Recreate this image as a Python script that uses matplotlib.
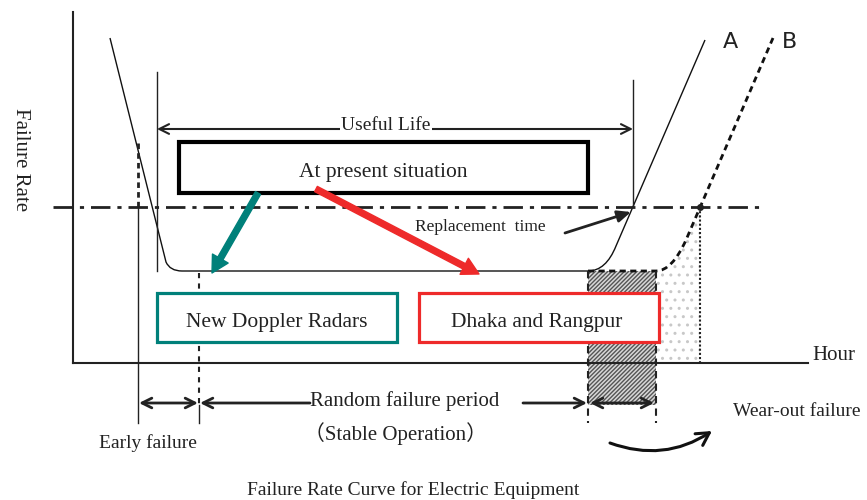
import matplotlib
matplotlib.use("Agg")
import matplotlib.pyplot as plt
from matplotlib.path import Path
from matplotlib.patches import PathPatch, Rectangle, FancyArrowPatch

# picture units: x to the right, y downward (0..867, 0..500)
M, L, C = Path.MOVETO, Path.LINETO, Path.CURVE3

curve_a_pts = [(110, 38), (166, 262), (170, 271), (182, 271), (588, 271),
               (606, 271), (616, 246), (705, 40)]
curve_a_codes = [M, L, C, C, L, C, C, L]
curve_b_pts = [(588, 271), (656, 271), (672, 271), (686, 240), (773, 38)]
curve_b_codes = [M, L, C, C, L]

replacement_y = 207
useful_life = (157, 633)
period_marks = [138, 199, 588, 656]
arrow_row_y = 403

serif = ["Liberation Serif", "DejaVu Serif"]
teal = "#00807a"
red = "#ee2a2a"

fig = plt.figure(figsize=(8.67, 5.0), dpi=100)
ax = fig.add_axes([0, 0, 1, 1])
ax.set_xlim(0, 867)
ax.set_ylim(500, 0)
ax.axis("off")

# axes of the diagram
ax.plot([73, 73], [12, 363], color="#222", lw=1.5)
ax.plot([73, 808], [363, 363], color="#222", lw=1.5)
ax.text(812, 356, "Hour", family=serif, fontsize=15, va="center", color="#222")
ax.text(20, 160, "Failure Rate", family=serif, fontsize=15, rotation=-90,
        va="center", ha="center", color="#222")

# shaded regions
rect = Rectangle((period_marks[2], 271), period_marks[3] - period_marks[2], arrow_row_y - 269,
                 facecolor="#d8d8d8", edgecolor="#555", hatch="////////", lw=0)
ax.add_patch(rect)
dots = Path([(656, 363), (656, 271), (672, 271), (686, 240), (700, 207), (700, 363), (656, 363)],
            [M, L, C, C, L, L, Path.CLOSEPOLY])
ax.add_patch(PathPatch(dots, facecolor="none", edgecolor="#c8c8c8", hatch="..", lw=0))

# curves
ax.add_patch(PathPatch(Path(curve_a_pts, curve_a_codes), fill=False, lw=1.0, color="#111"))
ax.add_patch(PathPatch(Path(curve_b_pts, curve_b_codes), fill=False, lw=2.0, color="#111",
                       linestyle=(0, (2.2, 1.6))))
ax.text(730, 42, "A", family=["Liberation Sans Narrow", "DejaVu Sans"], fontsize=16,
        ha="center", va="center", color="#222")
ax.text(790, 42, "B", family=["Liberation Sans Narrow", "DejaVu Sans"], fontsize=16,
        ha="center", va="center", color="#222")

# replacement level
ax.plot([53, 762], [replacement_y, replacement_y], color="#222", lw=2,
        linestyle=(0, (7, 2.5, 1.5, 2.5)))
ax.plot([700, 700], [replacement_y, 363], color="#222", lw=1.5, linestyle=(0, (1, 1)))
ax.plot([700], [replacement_y], "o", color="#222", ms=4)

# verticals
ax.plot([useful_life[0]] * 2, [72, 271], color="#222", lw=1)
ax.plot([useful_life[1]] * 2, [80, replacement_y], color="#222", lw=1)
ax.plot([period_marks[0]] * 2, [143, replacement_y], color="#222", lw=2, linestyle=(0, (2, 1.5)))
ax.plot([period_marks[0]] * 2, [replacement_y, 423], color="#222", lw=1)
ax.plot([period_marks[1]] * 2, [273, 405], color="#222", lw=1.5, linestyle=(0, (2.5, 2.5)))
ax.plot([period_marks[1]] * 2, [405, 423], color="#222", lw=1)
for x in period_marks[2:]:
    ax.plot([x, x], [271, 423], color="#222", lw=1.5, linestyle=(0, (3.5, 2.5)))

# useful life arrow
ax.annotate("", xy=(useful_life[0], 129), xytext=(useful_life[1], 129),
            arrowprops=dict(arrowstyle="<->,head_length=0.7,head_width=0.35", lw=1.5, color="#222",
                            shrinkA=0, shrinkB=0))
ax.text(386, 126, "Useful Life", family=serif, fontsize=14, ha="center", va="center",
        color="#222", bbox=dict(facecolor="white", edgecolor="none", pad=1))

# boxes
ax.add_patch(Rectangle((179, 142), 409, 51, facecolor="white", lw=3, edgecolor="black", zorder=3))
ax.text(383, 172, "At present situation", family=serif, fontsize=15.5, ha="center",
        va="center", color="#222", zorder=4)
ax.add_patch(Rectangle((157, 293), 240, 49, facecolor="white", lw=2.3, edgecolor=teal, zorder=3))
ax.text(277, 322, "New Doppler Radars", family=serif, fontsize=15.5, ha="center",
        va="center", color="#222", zorder=4)
ax.add_patch(Rectangle((419, 293), 240, 49, facecolor="white", lw=2.3, edgecolor=red, zorder=3))
ax.text(537, 322, "Dhaka and Rangpur", family=serif, fontsize=15.5, ha="center",
        va="center", color="#222", zorder=4)

# coloured arrows
ax.add_patch(FancyArrowPatch((258, 193), (212, 273), arrowstyle="simple,head_length=12,head_width=13,tail_width=4.2",
                             color=teal, shrinkA=0, shrinkB=0, mutation_scale=1, zorder=5))
ax.add_patch(FancyArrowPatch((316, 189), (479, 274), arrowstyle="simple,head_length=12,head_width=13,tail_width=4.2",
                             color=red, shrinkA=0, shrinkB=0, mutation_scale=1, zorder=5))

# replacement time
ax.text(415, 227, "Replacement  time", family=serif, fontsize=12.5, va="center", color="#222")
ax.annotate("", xy=(631, 212), xytext=(565, 233),
            arrowprops=dict(arrowstyle="-|>,head_length=0.8,head_width=0.35", lw=2, color="#222",
                            shrinkA=0, shrinkB=0))

# period arrows
ap = dict(lw=2, color="#222", shrinkA=0, shrinkB=0)
ax.annotate("", xy=(period_marks[0] + 1, arrow_row_y), xytext=(period_marks[1] - 1, arrow_row_y),
            arrowprops=dict(arrowstyle="<->,head_length=0.7,head_width=0.35", **ap))
ax.annotate("", xy=(period_marks[1] + 1, arrow_row_y), xytext=(310, arrow_row_y),
            arrowprops=dict(arrowstyle="->,head_length=0.7,head_width=0.35", **ap))
ax.annotate("", xy=(period_marks[2] - 1, arrow_row_y), xytext=(523, arrow_row_y),
            arrowprops=dict(arrowstyle="->,head_length=0.7,head_width=0.35", **ap))
ax.annotate("", xy=(period_marks[2] + 2, arrow_row_y), xytext=(period_marks[3] - 2, arrow_row_y),
            arrowprops=dict(arrowstyle="<->,head_length=0.7,head_width=0.35", **ap))
ax.text(405, 401, "Random failure period", family=serif, fontsize=15, ha="center",
        va="center", color="#222")
ax.text(395, 434, "（Stable Operation）", family=["Liberation Serif", "Noto Sans CJK JP"],
        fontsize=15, ha="center", va="center", color="#222")
ax.text(148, 443, "Early failure", family=serif, fontsize=14, ha="center", va="center", color="#222")
ax.text(797, 411, "Wear-out failure", family=serif, fontsize=14, ha="center", va="center", color="#222")
ax.add_patch(FancyArrowPatch((610, 443), (712, 431), connectionstyle="arc3,rad=0.25",
                             arrowstyle="->,head_length=9,head_width=5", lw=2.2, color="#111",
                             mutation_scale=1, shrinkA=0, shrinkB=0))

ax.text(413, 490, "Failure Rate Curve for Electric Equipment", family=serif, fontsize=14,
        ha="center", va="center", color="#222")

fig.savefig("out.png", dpi=100)
